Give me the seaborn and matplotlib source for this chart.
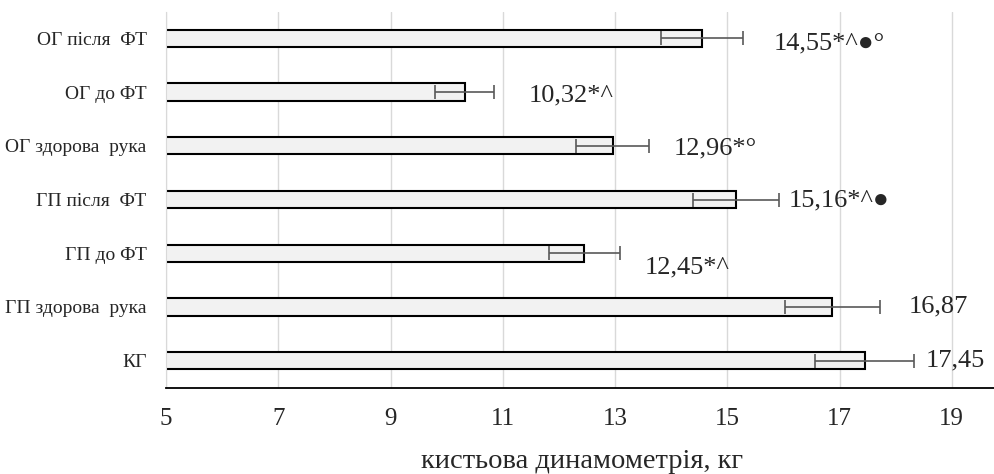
import matplotlib
matplotlib.use('Agg')
import matplotlib.pyplot as plt
import pandas as pd
import seaborn as sns

# values
groups = ['ОГ після  ФТ', 'ОГ до ФТ', 'ОГ здорова  рука', 'ГП після  ФТ',
          'ГП до ФТ', 'ГП здорова  рука', 'КГ']
means = [14.55, 10.32, 12.96, 15.16, 12.45, 16.87, 17.45]
errors = [0.73, 0.52, 0.65, 0.77, 0.63, 0.85, 0.88]
labels = ['14,55*^●°', '10,32*^', '12,96*°', '15,16*^●', '12,45*^', '16,87', '17,45']

# where each value label sits (data x, shift in category units)
label_x = [15.83, 11.46, 14.05, 16.1, 13.52, 18.24, 18.53]
label_dy = [0.1, 0.07, 0.05, 0.02, 0.27, 0.0, 0.0]

df = pd.DataFrame({'group': groups, 'mean': means})

sns.set_style('white')
serif = ['Liberation Serif', 'DejaVu Serif']
plt.rcParams['font.family'] = serif

fig = plt.figure(figsize=(9.95, 4.74), dpi=100)
ax = fig.add_axes([166 / 995, 86.5 / 474, 1 - 166 / 995, 376 / 474])

sns.barplot(data=df, x='mean', y='group', orient='h', color='#f2f2f2',
            edgecolor='black', linewidth=1.5, width=0.32, errorbar=None, ax=ax)
ax.errorbar(means, range(len(groups)), xerr=errors, fmt='none',
            ecolor='#595959', elinewidth=1.2, capsize=5, capthick=1.2, zorder=3)

for i, lab in enumerate(labels):
    ax.text(label_x[i], i + label_dy[i], lab, va='center', ha='left',
            fontsize=19, family=serif)

ax.set_xlim(5, 19.77)
ax.set_ylim(6.5, -0.5)
ax.set_xticks(range(5, 21, 2))
ax.grid(axis='x', color='#d9d9d9', linewidth=1)
ax.set_axisbelow(True)
for s in ['top', 'right']:
    ax.spines[s].set_visible(False)
ax.spines['left'].set_color('#d9d9d9')
ax.spines['bottom'].set_color('black')
ax.spines['bottom'].set_linewidth(1.3)
ax.tick_params(axis='x', labelsize=18, pad=15, length=0)
ax.tick_params(axis='y', labelsize=14, pad=14, length=0)
ax.set_ylabel('')
ax.set_xlabel('кистьова динамометрія, кг', fontsize=20.5)
ax.xaxis.set_label_coords(0.502, -0.163)

fig.savefig('out.png', dpi=100)
